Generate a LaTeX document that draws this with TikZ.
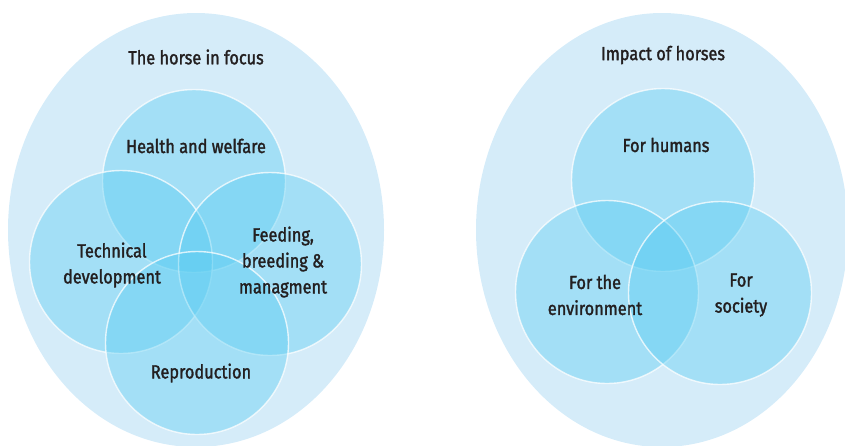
\documentclass[tikz,border=0pt]{standalone}
\usepackage{fontspec}
\setmainfont{Fira Sans}[FakeStretch=0.86, FakeBold=1.6]
\definecolor{outerblue}{HTML}{D5ECF9}
\definecolor{ringblue}{HTML}{58CCF2}
\definecolor{inkgrey}{HTML}{231F20}
\tikzset{
  area/.style={fill=outerblue},
  topic/.style={circle, minimum size=183pt, inner sep=0pt, fill=ringblue, fill opacity=0.4,
    draw=white, draw opacity=0.75, line width=1.4pt},
  caption/.style={text=inkgrey, font=\fontsize{19}{26}\selectfont, align=center}
}
\begin{document}
\begin{tikzpicture}[x=1pt,y=-1pt]
\useasboundingbox (0,0) rectangle (845,445);

% the two outer areas
\fill[area] (196,230) ellipse (188 and 217);
\fill[area] (662,230) ellipse (186 and 217);

% left diagram
\node[topic] (health) at (194,181) {};
\node[topic] (tech) at (121,262) {};
\node[topic] (feed) at (270,264) {};
\node[topic] (repro) at (197,343) {};

\node[caption] (focus) at (196,57) {The horse in focus};
\node[caption] (healthtxt) at (196,146) {Health and welfare};
\node[caption] (techtxt) at (112,265) {Technical\\development};
\node[caption] (feedtxt) at (283,262) {Feeding,\\breeding \&\\managment};
\node[caption] (reprotxt) at (201,373) {Reproduction};

% right diagram
\node[topic] (humans) at (663,180) {};
\node[topic] (env) at (607,292) {};
\node[topic] (society) at (720,293) {};

\node[caption] (impact) at (663,55) {Impact of horses};
\node[caption] (humanstxt) at (666,145) {For humans};
\node[caption] (envtxt) at (595,295) {For the\\environment};
\node[caption] (societytxt) at (741,295) {For\\society};

\end{tikzpicture}
\end{document}
